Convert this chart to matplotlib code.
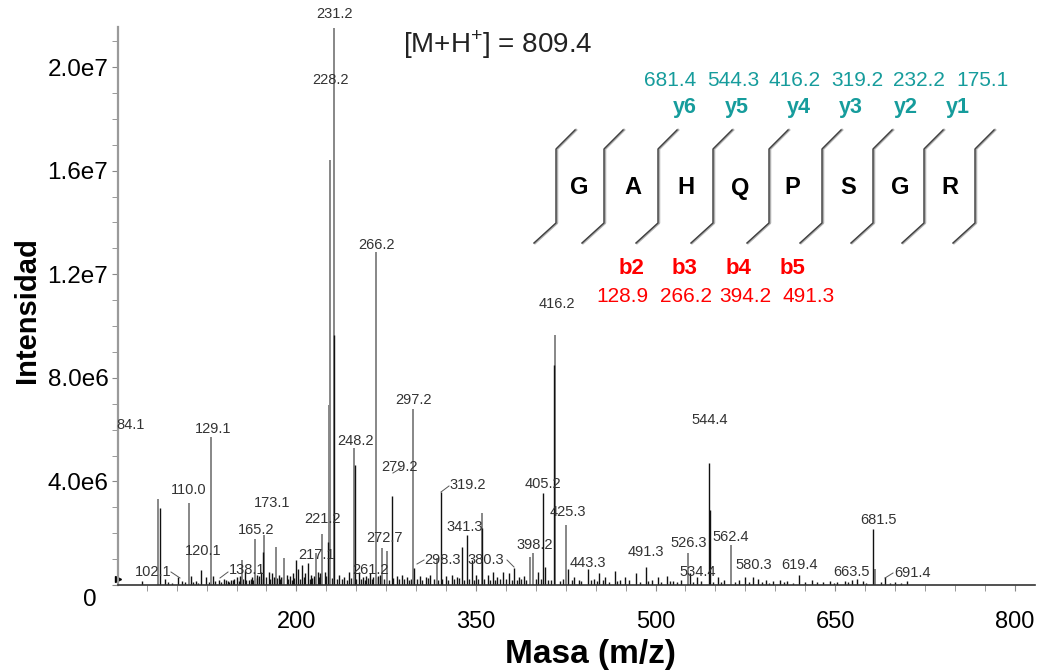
import matplotlib
matplotlib.use("Agg")
import matplotlib.pyplot as plt
from matplotlib.lines import Line2D
from matplotlib.transforms import ScaledTranslation
import numpy as np

# ---- spectrum data (m/z, intensity in units of 1e6) ----
# grey trace: the larger fragment peaks
gray_mz = [84.1, 110.0, 129.1, 154.3, 165.2, 173.1, 182.7, 189.4, 216.2, 221.2,
           227.6, 228.2, 231.2, 248.2, 266.2, 271.3, 275.5, 297.2, 317.2, 354.8,
           395.0, 397.5, 416.2, 425.3, 527.0, 563.0, 683.4]
gray_int = [3.32, 3.17, 5.70, 0.97, 1.78, 1.93, 1.47, 1.04, 1.23, 1.97,
            6.95, 16.4, 21.5, 5.30, 12.86, 1.43, 1.30, 6.80, 1.04, 2.78,
            1.08, 1.23, 9.65, 2.30, 1.25, 1.55, 0.60]

# black trace: overlay peaks and small peaks
black_mz = [70.7, 85.8, 90.0, 100.8, 104.5, 111.7, 116.0, 120.1, 124.3, 130.0,
            135.0, 139.2, 142.5, 145.1, 148.0, 150.1, 153.0, 156.8, 160.1, 163.0,
            166.8, 168.5, 170.1, 171.8, 176.8, 179.5, 181.0, 185.2, 187.5, 191.9,
            194.5, 197.0, 199.4, 201.1, 204.5, 207.0, 209.5, 212.0, 214.5, 217.9,
            220.0, 223.8, 226.8, 231.4, 236.0, 240.0, 244.0, 248.7, 252.0, 256.0,
            258.5, 261.2, 264.0, 268.5, 270.0, 279.7, 284.0, 288.0, 292.0, 298.5,
            303.0, 308.0, 312.0, 320.5, 325.0, 330.0, 334.0, 338.1, 342.3, 346.5,
            350.0, 354.8, 360.0, 364.0, 368.0, 373.0, 378.0, 381.6, 386.0, 390.0,
            402.0, 405.9, 408.0, 415.5, 427.0, 432.0, 436.0, 443.4, 449.0, 453.0,
            458.0, 466.0, 470.0, 474.3, 483.5, 491.9, 497.0, 501.9, 509.5, 515.0,
            521.0, 528.7, 534.5, 544.6, 545.5, 552.0, 557.0, 570.0, 575.0, 581.4,
            586.0, 592.0, 598.0, 603.9, 610.0, 619.8, 625.0, 630.7, 640.0, 646.0,
            652.0, 658.0, 664.1, 668.0, 673.3, 681.7, 691.7, 700.0, 710.1]
black_int = [0.15, 2.97, 0.25, 0.30, 0.15, 0.35, 0.15, 0.58, 0.30, 0.35,
             0.20, 0.25, 0.15, 0.20, 0.25, 0.30, 0.35, 0.55, 0.20, 0.30,
             0.40, 0.35, 0.50, 1.27, 0.50, 0.45, 0.30, 0.40, 0.30, 0.40,
             0.35, 0.45, 0.97, 0.60, 0.77, 0.45, 0.85, 0.40, 0.35, 0.50,
             0.45, 0.50, 1.66, 9.65, 0.40, 0.30, 0.50, 4.63, 0.50, 0.30,
             0.35, 0.45, 0.30, 0.35, 0.40, 3.44, 0.35, 0.40, 0.30, 0.65,
             0.35, 0.30, 0.40, 3.60, 0.35, 0.40, 0.30, 1.47, 1.93, 0.97,
             0.40, 2.20, 0.40, 0.50, 0.30, 0.50, 0.45, 0.65, 0.30, 0.35,
             0.50, 3.55, 0.70, 8.50, 0.60, 0.30, 0.20, 0.60, 0.25, 0.45,
             0.30, 0.55, 0.20, 0.30, 0.45, 0.70, 0.20, 0.30, 0.35, 0.15,
             0.20, 0.45, 0.30, 4.70, 2.90, 0.30, 0.20, 0.20, 0.30, 0.30,
             0.25, 0.20, 0.15, 0.20, 0.15, 0.40, 0.12, 0.20, 0.12, 0.15,
             0.12, 0.15, 0.20, 0.25, 0.15, 2.15, 0.30, 0.12, 0.15]

# baseline chatter (black, very small)
base_mz = [93, 96, 107, 114, 118, 127, 132, 137, 141, 144, 147, 152, 155, 158,
           162, 164, 167, 172.5, 175, 178, 183.5, 186, 189, 193, 196, 198, 203,
           206, 211, 213, 215.5, 219, 225, 229.5, 234, 238, 242, 246, 250, 254,
           257, 260, 263, 266.8, 273, 277, 281, 286, 290, 294, 296, 301, 305,
           310, 315, 318, 322, 327, 332, 336, 340, 344, 348, 352, 357, 362,
           366, 370, 375, 380, 384, 388, 392, 400, 404, 410, 413, 420, 423,
           430, 438, 446, 451, 456, 461, 468, 478, 487, 494, 505, 512, 518,
           531, 538, 548, 555, 566, 578, 589, 595, 607, 615, 635, 649, 661,
           676, 688, 696, 705]
base_int = [0.10, 0.08, 0.12, 0.10, 0.08, 0.12, 0.15, 0.10, 0.18, 0.12, 0.20,
            0.15, 0.22, 0.18, 0.25, 0.20, 0.28, 0.22, 0.30, 0.25, 0.28, 0.22,
            0.30, 0.25, 0.20, 0.28, 0.25, 0.30, 0.22, 0.28, 0.25, 0.30, 0.35,
            0.28, 0.22, 0.25, 0.20, 0.28, 0.22, 0.25, 0.20, 0.28, 0.22, 0.30,
            0.25, 0.20, 0.28, 0.22, 0.25, 0.18, 0.22, 0.25, 0.20, 0.28, 0.22,
            0.18, 0.25, 0.20, 0.22, 0.28, 0.20, 0.25, 0.18, 0.22, 0.25, 0.20,
            0.18, 0.25, 0.22, 0.20, 0.18, 0.22, 0.20, 0.25, 0.22, 0.18, 0.20,
            0.15, 0.22, 0.18, 0.15, 0.20, 0.15, 0.18, 0.12, 0.15, 0.18, 0.12,
            0.15, 0.12, 0.15, 0.10, 0.12, 0.15, 0.12, 0.10, 0.12, 0.10, 0.12,
            0.08, 0.10, 0.08, 0.10, 0.08, 0.10, 0.08, 0.10, 0.08, 0.08]

x_ticks = [200, 350, 500, 650, 800]
y_ticks = [0, 4e6, 8e6, 1.2e7, 1.6e7, 2.0e7]
y_tick_labels = ["0", "4.0e6", "8.0e6", "1.2e7", "1.6e7", "2.0e7"]

precursor_mz = 809.4
sequence = ["G", "A", "H", "Q", "P", "S", "G", "R"]
y_ions = ["y6", "y5", "y4", "y3", "y2", "y1"]
y_ion_mz = [681.4, 544.3, 416.2, 319.2, 232.2, 175.1]
b_ions = ["b2", "b3", "b4", "b5"]
b_ion_mz = [128.9, 266.2, 394.2, 491.3]

plt.rcParams["font.family"] = ["Liberation Sans", "DejaVu Sans"]
plt.rcParams["mathtext.fontset"] = "custom"
plt.rcParams["mathtext.rm"] = "Liberation Sans"

W, H = 1037, 672
TEAL = "#169c9c"
RED = "#ff0000"


def fx(x):
    return x / W


def fy(y):
    return 1 - y / H


fig = plt.figure(figsize=(W / 100, H / 100), dpi=100)
ax = fig.add_axes([fx(118), fy(585), (1035 - 118) / W, (585 - 27) / H])

ax.vlines(base_mz, 0, np.array(base_int) * 1e6, color="#1a1a1a", lw=1.0)
ax.vlines(gray_mz, 0, np.array(gray_int) * 1e6, color="#878787", lw=1.4)
ax.vlines(black_mz, 0, np.array(black_int) * 1e6, color="#111111", lw=1.0)

ax.set_xlim(51, 817)
ax.set_ylim(0, 21.55e6)

for side in ["top", "right"]:
    ax.spines[side].set_visible(False)
ax.spines["left"].set_color("#9a9a9a")
ax.spines["left"].set_linewidth(1.6)
ax.spines["bottom"].set_color("#333333")
ax.spines["bottom"].set_linewidth(1.2)

ax.set_xticks(x_ticks)
ax.set_xticks(np.arange(75, 817, 25), minor=True)
ax.tick_params(axis="x", which="both", direction="out", length=4,
               color="#888888", labelsize=17, pad=15)
ax.set_yticks(y_ticks, y_tick_labels)
ax.set_yticks(np.arange(1e6, 21.5e6, 1e6), minor=True)
ax.tick_params(axis="y", which="both", direction="out", length=4,
               color="#888888", labelsize=17.5, pad=3)

# the "0" label sits lower-left of the origin in the original
zero_lbl = ax.yaxis.get_major_ticks()[0].label1
zero_lbl.set_transform(zero_lbl.get_transform() +
                       ScaledTranslation(-0.12, -0.13, fig.dpi_scale_trans))

# little marker at the origin of the trace
ax.plot([0], [0.01], marker=">", ms=5, color="k", transform=ax.transAxes,
        clip_on=False)

ax.set_xlabel("Masa (m/z)", fontsize=24, fontweight="bold")
ax.xaxis.label.set_va("center")
ax.xaxis.set_label_coords(0.515, -0.125)
ax.set_ylabel("Intensidad", fontsize=21, fontweight="bold")
ax.yaxis.label.set_va("center")
ax.yaxis.set_label_coords(-0.099, 0.493)

# peak annotations (text, m/z, intensity*1e6 of the label centre)
labels = [
    ("231.2", 232.0, 22.05), ("228.2", 228.7, 19.5), ("266.2", 267.1, 13.13),
    ("416.2", 417.5, 10.85), ("297.2", 298.0, 7.14), ("84.1", 61.5, 6.18),
    ("129.1", 130.1, 6.02), ("544.4", 545.3, 6.37), ("248.2", 249.5, 5.56),
    ("279.2", 286.5, 4.56), ("110.0", 110.0, 3.67), ("173.1", 179.5, 3.17),
    ("319.2", 343.5, 3.86), ("405.2", 405.9, 3.90), ("425.3", 426.7, 2.82),
    ("681.5", 686.6, 2.51), ("165.2", 166.0, 2.12), ("221.2", 222.0, 2.55),
    ("341.3", 340.8, 2.24), ("562.4", 562.5, 1.85), ("526.3", 527.8, 1.62),
    ("120.1", 122.1, 1.31), ("272.7", 273.4, 1.81), ("217.1", 217.0, 1.16),
    ("398.2", 399.1, 1.54), ("491.3", 492.3, 1.27), ("443.3", 443.8, 0.85),
    ("298.3", 321.8, 0.97), ("380.3", 358.6, 0.97), ("261.2", 261.7, 0.58),
    ("102.1", 80.3, 0.50), ("138.1", 158.9, 0.58), ("534.4", 534.9, 0.50),
    ("580.3", 581.9, 0.77), ("619.4", 620.1, 0.77), ("663.5", 663.6, 0.50),
    ("691.4", 714.5, 0.46),
]
for txt, mz, inten in labels:
    ax.text(mz, inten * 1e6, txt, ha="center", va="center", fontsize=10.5,
            color="#333333")

# short leader hooks (image pixels)
leaders = [((393, 473), (401, 468)), ((441, 492), (449, 486)),
           ((417, 564), (424, 560)), ((507, 560), (514, 567)),
           ((171, 572), (180, 578)), ((220, 578), (228, 572)),
           ((885, 578), (893, 573))]
for (x0, y0), (x1, y1) in leaders:
    fig.add_artist(Line2D([fx(x0), fx(x1)], [fy(y0), fy(y1)],
                          transform=fig.transFigure, color="#555555", lw=0.7))

# precursor
fig.text(fx(498), fy(45), "[M+H$^{+}$] = %.1f" % precursor_mz, ha="center",
         va="center", fontsize=20, color="#222222")

# ---- peptide fragmentation diagram ----
sep_x = [556, 604, 658, 713, 769, 822, 873, 924, 975]
for v in sep_x:
    xs = [v - 22, v, v, v + 19]
    ys = [243, 223, 149, 130]
    fig.add_artist(Line2D([fx(x + 1) for x in xs], [fy(y) for y in ys],
                          transform=fig.transFigure, color="#b0b0b0", lw=1.8))
    fig.add_artist(Line2D([fx(x) for x in xs], [fy(y) for y in ys],
                          transform=fig.transFigure, color="#404040", lw=1.0))

res_x = [579, 633, 686, 740, 792, 848, 900, 950]
for aa, x in zip(sequence, res_x):
    fig.text(fx(x), fy(188), aa, ha="center", va="center", fontsize=17,
             fontweight="bold", color="black")

y_lab_x = [685, 737, 799, 851, 906, 958]
y_val_x = [670, 733, 795, 857, 919, 982]
for name, mz, xl, xv in zip(y_ions, y_ion_mz, y_lab_x, y_val_x):
    fig.text(fx(xl), fy(108), name, ha="center", va="center", fontsize=15.5,
             fontweight="bold", color=TEAL)
    fig.text(fx(xv), fy(80), "%.1f" % mz, ha="center", va="center",
             fontsize=15, color=TEAL)

b_lab_x = [632, 685, 739, 793]
b_val_x = [622, 686, 745, 809]
for name, mz, xl, xv in zip(b_ions, b_ion_mz, b_lab_x, b_val_x):
    fig.text(fx(xl), fy(268), name, ha="center", va="center", fontsize=16,
             fontweight="bold", color=RED)
    fig.text(fx(xv), fy(297), "%.1f" % mz, ha="center", va="center",
             fontsize=15, color=RED)

fig.savefig("out.png", dpi=100)
